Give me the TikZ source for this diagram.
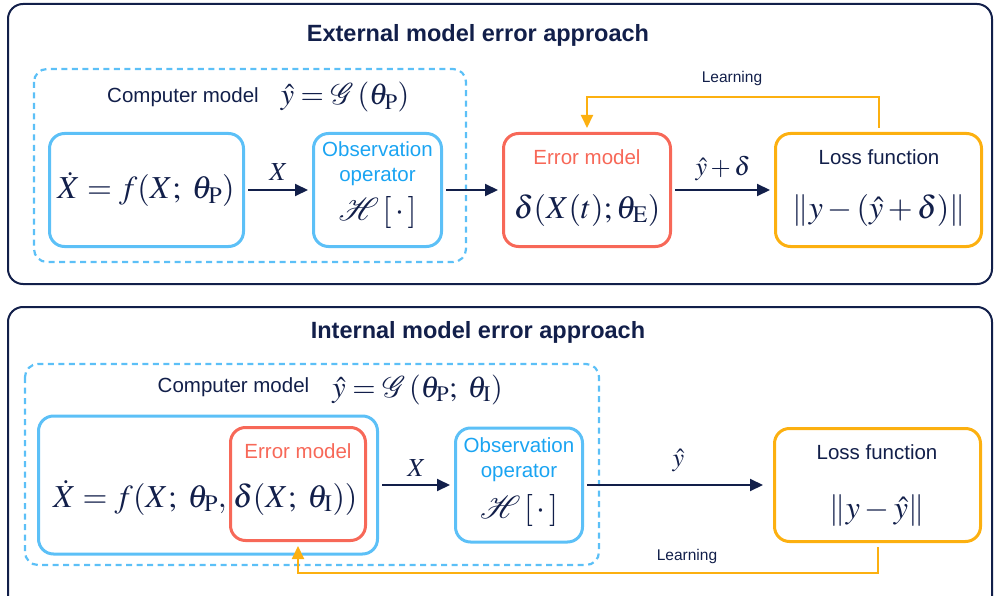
\RequirePackage{fix-cm}
\documentclass[tikz,border=0pt]{standalone}
\usepackage{mathptmx}
\usepackage[no-math]{fontspec}
\setmainfont{Liberation Sans}
\usetikzlibrary{positioning}
\usetikzlibrary{arrows,arrows.meta}
\usetikzlibrary{calc}
\definecolor{navy}{RGB}{18,31,74}
\definecolor{sky}{RGB}{92,192,247}
\definecolor{obsblue}{RGB}{26,164,242}
\definecolor{coral}{RGB}{247,104,88}
\definecolor{amber}{RGB}{252,176,16}
\tikzstyle{panel}=[draw=navy,line width=2pt,rounded corners=15pt]
\tikzstyle{dashbox}=[draw=sky,line width=2.2pt,dash pattern=on 6pt off 4.5pt,rounded corners=13pt]
\tikzstyle{box}=[rectangle,line width=3pt,rounded corners=15pt,inner sep=0pt]
\tikzstyle{title}=[font=\fontsize{23.5}{28}\selectfont\bfseries,text=navy,anchor=base,inner sep=0pt]
\tikzstyle{txt}=[font=\fontsize{20.5}{24}\selectfont,text=navy,anchor=base,inner sep=0pt]
\tikzstyle{smalltxt}=[font=\fontsize{15.5}{18}\selectfont,text=navy,anchor=base,inner sep=0pt]
\tikzstyle{eq}=[font=\fontsize{32}{36}\selectfont,text=navy,anchor=base,inner sep=0pt]
\tikzstyle{headeq}=[font=\fontsize{30}{36}\selectfont,text=navy,anchor=base,inner sep=0pt]
\tikzstyle{lbl}=[font=\fontsize{26}{30}\selectfont,text=navy,anchor=base,inner sep=0pt]
\tikzstyle{edge}=[draw,line width=2pt,navy,-{Triangle[length=13pt,width=12pt]},shorten <=3pt,shorten >=4pt]
\tikzstyle{learnedge}=[draw,line width=2pt,amber,-{Triangle[length=13pt,width=12pt]},shorten <=4pt,shorten >=4pt]

\begin{document}
\begin{tikzpicture}[x=1pt,y=-1pt]

    \path[use as bounding box] (0,0) rectangle (995,596);
    \clip (0,0) rectangle (995,596);

%External

    \draw[panel] (8,4) rectangle (992,284);
    \node[title] (titleA) at (478,42) {External model error approach};
    \draw[dashbox] (34,69) rectangle (466,262);
    \node[txt] (cmA) at (183,103) {Computer model};
    \node[headeq] (cmeqA) at (345,105) {$\hat y = \mathcal{G}\,(\theta_\mathrm{P})$};

%boxes
    \foreach \pos/\name/\col/\w/\h in {{(146.5,190)/modA/sky/194/113}, {(377.5,190)/obsA/sky/128/113}, {(587,190)/errA/coral/167/113}, {(878.5,190)/lossA/amber/206/113}}
        \node[box,draw=\col,minimum width=\w pt,minimum height=\h pt] (\name) at \pos {};

%texts
    \node[eq] (fA) at (146,199) {$\dot X = f(X;\; \theta_\mathrm{P})$};
    \node[txt,text=obsblue] (obsA1) at (377.5,157) {Observation};
    \node[txt,text=obsblue] (obsA2) at (377.5,182) {operator};
    \node[eq] (hA) at (377.5,220) {$\mathcal{H}\,[\,\cdot\,]$};
    \node[txt,text=coral] (errA1) at (587,165) {Error model};
    \node[eq] (deltaA) at (587,218) {$\delta(X(t);\theta_\mathrm{E})$};
    \node[txt] (lossA1) at (879,165) {Loss function};
    \node[eq] (normA) at (879,218) {$\|y-(\hat y+\delta)\|$};

% Edges
    \path[edge] (modA) -- node[lbl,above=8pt] (xA) {$X$} (obsA);
    \path[edge] (obsA) -- (errA);
    \path[edge] (errA) -- node[lbl,above=8pt] (yA) {$\hat y+\delta$} (lossA);

    \coordinate (learnA) at (733,97);
    \path[learnedge] (lossA.north) |- (learnA) -| (errA.north);
    \node[smalltxt] (learnlblA) at (732,83) {Learning};

%Internal

    \draw[panel] (8,307) rectangle (992,640);
    \node[title] (titleB) at (478,338) {Internal model error approach};
    \draw[dashbox] (25,364) rectangle (599,565);
    \node[txt] (cmB) at (233.5,392) {Computer model};
    \node[headeq] (cmeqB) at (417.5,397) {$\hat y = \mathcal{G}\,(\theta_\mathrm{P};\; \theta_\mathrm{I})$};

%boxes
    \foreach \pos/\name/\col/\w/\h in {{(208,485)/modB/sky/339/138}, {(298,484)/errB/coral/135/113}, {(519,485)/obsB/sky/127/114}, {(877.5,485)/lossB/amber/206/113}}
        \node[box,draw=\col,minimum width=\w pt,minimum height=\h pt] (\name) at \pos {};

%texts
    \node[eq,anchor=base east] (fB1) at (227,507) {$\dot X = f(X;\; \theta_\mathrm{P},$};
    \node[eq,anchor=base west] (fB2) at (233,507) {$\delta(X;\; \theta_\mathrm{I}))$};
    \node[txt,text=coral] (errB1) at (298,458) {Error model};
    \node[txt,text=obsblue] (obsB1) at (519,452) {Observation};
    \node[txt,text=obsblue] (obsB2) at (519,477) {operator};
    \node[eq] (hB) at (519,518) {$\mathcal{H}\,[\,\cdot\,]$};
    \node[txt] (lossB1) at (877,459) {Loss function};
    \node[eq] (normB) at (877,518) {$\|y-\hat y\|$};

% Edges
    \path[edge] (modB) -- node[lbl,above=8pt] (xB) {$X$} (obsB);
    \path[edge,shorten >=10pt] (obsB) -- node[lbl,above=12pt] (yB) {$\hat y$} (lossB);

    \coordinate (learnB) at (687,573);
    \path[learnedge] (lossB.south) |- (learnB) -| (errB.south);
    \node[smalltxt] (learnlblB) at (687,560) {Learning};

\end{tikzpicture}
\end{document}
